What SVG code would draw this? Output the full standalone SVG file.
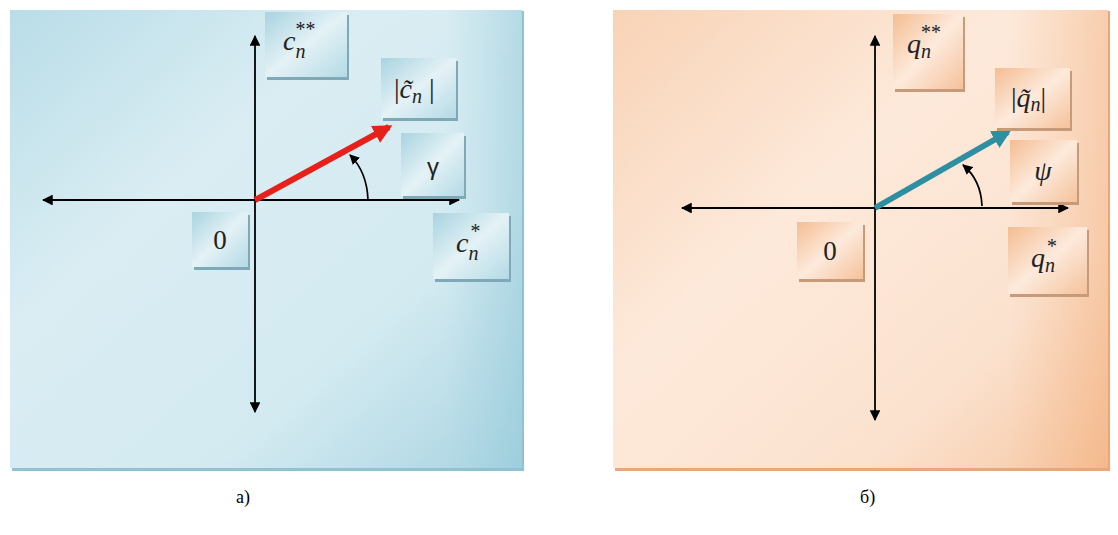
<svg xmlns="http://www.w3.org/2000/svg" width="1118" height="535" viewBox="0 0 1118 535">
<defs>
<linearGradient id="gBlue" x1="0" y1="0" x2="1" y2="1">
<stop offset="0" stop-color="#b9dde8"/><stop offset="0.35" stop-color="#daedf3"/><stop offset="0.7" stop-color="#d3eaf1"/><stop offset="1" stop-color="#a9d4e1"/>
</linearGradient>
<linearGradient id="gBlueR" x1="0" y1="0" x2="1" y2="0">
<stop offset="0.85" stop-color="#9fd0de" stop-opacity="0"/><stop offset="1" stop-color="#92c8d8" stop-opacity="0.5"/>
</linearGradient>
<linearGradient id="gOrange" x1="0" y1="0" x2="1" y2="1">
<stop offset="0" stop-color="#f8d3b6"/><stop offset="0.4" stop-color="#fde9da"/><stop offset="0.75" stop-color="#fbe2cf"/><stop offset="1" stop-color="#f6c6a1"/>
</linearGradient>
<linearGradient id="gOrangeR" x1="0" y1="0" x2="1" y2="0">
<stop offset="0.8" stop-color="#f3b07d" stop-opacity="0"/><stop offset="1" stop-color="#f2a66e" stop-opacity="0.4"/>
</linearGradient>
<linearGradient id="bBox" x1="0" y1="0" x2="1" y2="1">
<stop offset="0" stop-color="#a9d3e0"/><stop offset="0.5" stop-color="#e4f2f6"/><stop offset="1" stop-color="#b4dae5"/>
</linearGradient>
<linearGradient id="oBox" x1="0" y1="0" x2="1" y2="1">
<stop offset="0" stop-color="#f4bd92"/><stop offset="0.5" stop-color="#fdeadc"/><stop offset="1" stop-color="#f5c29b"/>
</linearGradient>
<marker id="ah" viewBox="0 0 10 10" refX="9" refY="5" markerWidth="6" markerHeight="6" markerUnits="strokeWidth" orient="auto">
<path d="M0,0 L10,5 L0,10 z" fill="#000"/>
</marker>
<marker id="ahs" viewBox="0 0 10 10" refX="9" refY="5" markerWidth="6" markerHeight="6" markerUnits="strokeWidth" orient="auto">
<path d="M0,0 L10,5 L0,10 z" fill="#000"/>
</marker>
<marker id="ahR" viewBox="0 0 10 10" refX="8" refY="5" markerWidth="3.2" markerHeight="3.2" markerUnits="strokeWidth" orient="auto">
<path d="M0,0 L10,5 L0,10 z" fill="#e8201a"/>
</marker>
<marker id="ahT" viewBox="0 0 10 10" refX="8" refY="5" markerWidth="3.2" markerHeight="3.2" markerUnits="strokeWidth" orient="auto">
<path d="M0,0 L10,5 L0,10 z" fill="#2e8fa3"/>
</marker>
</defs>
<style>
.axis{stroke:#000;stroke-width:1.8;fill:none}
.arc{stroke:#000;stroke-width:1.7;fill:none}
.shB{fill:#7fa9b6}
.shO{fill:#c79b7a}
.bb{fill:url(#bBox)}
.ob{fill:url(#oBox)}
.m{font-family:'Liberation Serif','DejaVu Serif',serif;font-style:italic;font-size:28px;fill:#222}
.u{font-family:'Liberation Serif','DejaVu Serif',serif;font-size:27px;fill:#222}
.sub{font-size:20px}
.cap{font-family:'Liberation Serif','DejaVu Serif',serif;font-size:18px;fill:#000}
</style>
<rect width="1118" height="535" fill="#fff"/>

<g id="panel-a">
<rect x="12" y="11" width="512" height="460" fill="#8fc3d3"/>
<rect x="10" y="10" width="512" height="458" fill="url(#gBlue)"/>
<rect x="10" y="10" width="512" height="458" fill="url(#gBlueR)"/>
</g>
<g id="panel-b">
<rect x="615" y="11" width="495" height="460" fill="#e9a77a"/>
<rect x="613" y="10" width="495" height="458" fill="url(#gOrange)"/>
<rect x="613" y="10" width="495" height="458" fill="url(#gOrangeR)"/>
</g>

<g id="connectors">
<line class="axis" x1="255" y1="200" x2="459" y2="200" marker-end="url(#ah)"/>
<line class="axis" x1="255" y1="200" x2="43" y2="200" marker-end="url(#ah)"/>
<line class="axis" x1="255" y1="200" x2="255" y2="36" marker-end="url(#ah)"/>
<line class="axis" x1="255" y1="200" x2="255" y2="412" marker-end="url(#ah)"/>
<line x1="255" y1="200" x2="389" y2="127" stroke="#e8201a" stroke-width="6" marker-end="url(#ahR)"/>
<path class="arc" d="M368,200 Q367,172 350,155" marker-end="url(#ahs)"/>

<line class="axis" x1="875" y1="208" x2="1068" y2="208" marker-end="url(#ah)"/>
<line class="axis" x1="875" y1="208" x2="682" y2="208" marker-end="url(#ah)"/>
<line class="axis" x1="875" y1="208" x2="875" y2="36" marker-end="url(#ah)"/>
<line class="axis" x1="875" y1="208" x2="875" y2="420" marker-end="url(#ah)"/>
<line x1="875" y1="208" x2="1008" y2="132" stroke="#2e8fa3" stroke-width="6" marker-end="url(#ahT)"/>
<path class="arc" d="M982,206 Q981,180 963,165" marker-end="url(#ahs)"/>
</g>

<g id="c2star">
<rect class="shB" x="267" y="15" width="82" height="65"/>
<rect class="bb" x="265" y="12" width="82" height="65"/>
<text class="m" x="283" y="50">c<tspan class="sub" dy="8">n</tspan><tspan class="sub" dx="-11" dy="-22">**</tspan></text>
</g>
<g id="cabs">
<rect class="shB" x="383" y="61" width="75" height="60"/>
<rect class="bb" x="381" y="58" width="75" height="60"/>
<text class="m" x="394" y="98"><tspan font-style="normal">|</tspan>c̃<tspan class="sub" dy="5">n</tspan><tspan font-style="normal" dy="-5"> |</tspan></text>
</g>
<g id="gamma">
<rect class="shB" x="403" y="136" width="63" height="63"/>
<rect class="bb" x="401" y="133" width="63" height="63"/>
<text x="433" y="175" text-anchor="middle" font-family="Liberation Sans, sans-serif" font-size="24" fill="#222">γ</text>
</g>
<g id="zero-a">
<rect class="shB" x="194" y="215" width="56" height="55"/>
<rect class="bb" x="192" y="212" width="56" height="55"/>
<text class="u" x="220" y="249" text-anchor="middle">0</text>
</g>
<g id="c1star">
<rect class="shB" x="435" y="216" width="76" height="66"/>
<rect class="bb" x="433" y="213" width="76" height="66"/>
<text class="m" x="456" y="252">c<tspan class="sub" dy="8">n</tspan><tspan class="sub" dx="-9" dy="-22">*</tspan></text>
</g>

<g id="q2star">
<rect class="shO" x="895" y="17" width="70" height="75"/>
<rect class="ob" x="893" y="14" width="70" height="75"/>
<text class="m" x="907" y="53">q<tspan class="sub" dy="5">n</tspan><tspan class="sub" dx="-11" dy="-19">**</tspan></text>
</g>
<g id="qabs">
<rect class="shO" x="997" y="71" width="75" height="60"/>
<rect class="ob" x="995" y="68" width="75" height="60"/>
<text class="m" x="1011" y="107"><tspan font-style="normal">|</tspan>q̃<tspan class="sub" dy="4">n</tspan><tspan font-style="normal" dy="-4">|</tspan></text>
</g>
<g id="psi">
<rect class="shO" x="1012" y="143" width="67" height="62"/>
<rect class="ob" x="1010" y="140" width="67" height="62"/>
<text class="m" x="1043" y="180" text-anchor="middle">ψ</text>
</g>
<g id="zero-b">
<rect class="shO" x="799" y="225" width="66" height="57"/>
<rect class="ob" x="797" y="222" width="66" height="57"/>
<text class="u" x="830" y="260" text-anchor="middle">0</text>
</g>
<g id="q1star">
<rect class="shO" x="1010" y="230" width="79" height="67"/>
<rect class="ob" x="1008" y="227" width="79" height="67"/>
<text class="m" x="1031" y="267">q<tspan class="sub" dy="5">n</tspan><tspan class="sub" dx="-9" dy="-19">*</tspan></text>
</g>

<text class="cap" x="236" y="503">а)</text>
<text class="cap" x="860" y="503">б)</text>
</svg>
